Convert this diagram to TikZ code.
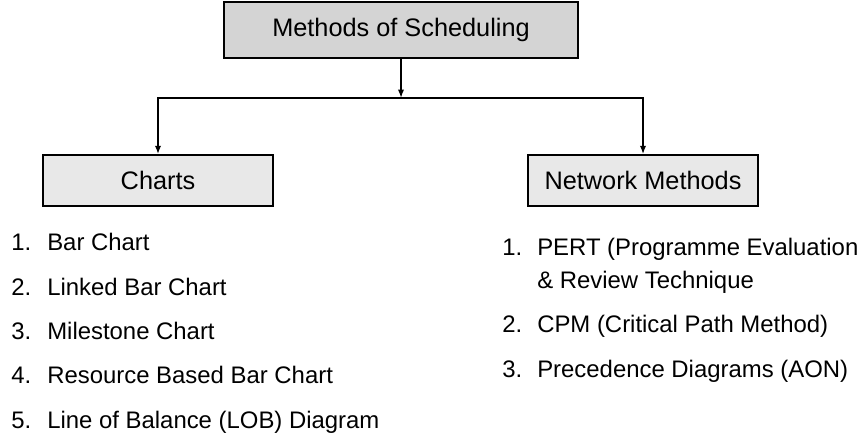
\documentclass[tikz,border=0pt]{standalone}
\usepackage{fontspec}
\setmainfont{Liberation Sans}
\usetikzlibrary{positioning, calc, arrows.meta}

\definecolor{headgray}{gray}{0.83}
\definecolor{boxgray}{gray}{0.91}

\begin{document}
\begin{tikzpicture}[x=0.025cm, y=-0.025cm,
    box/.style={draw, line width=1.1pt, inner sep=0pt, font=\fontsize{18}{22}\selectfont},
    conn/.style={line width=1.1pt, -{Latex[length=6pt, width=4.5pt]}},
    item/.style={anchor=base west, inner sep=0pt, font=\fontsize{17}{21}\selectfont}]

    % 枠
    \useasboundingbox (0,0) rectangle (859,434);

    % 箱の描画
    \node[box, fill=headgray, minimum width=8.85cm, minimum height=1.4cm] (methods) at (401,30) {Methods of Scheduling};
    \node[box, fill=boxgray, minimum width=5.75cm, minimum height=1.275cm] (charts) at (158,180.5) {Charts};
    \node[box, fill=boxgray, minimum width=5.75cm, minimum height=1.275cm] (network) at (643,180.5) {Network Methods};

    % 矢印
    \coordinate (split) at (401,98);
    \draw[conn] (methods.south) -- (split);
    \draw[conn] (split) -| (charts.north);
    \draw[conn] (split) -| (network.north);

    % 左のリスト
    \foreach \n/\t/\y in {1/Bar Chart/250, 2/Linked Bar Chart/295, 3/Milestone Chart/339,
                          4/Resource Based Bar Chart/383, 5/Line of Balance (LOB) Diagram/428} {
        \node[item] (cnum\n) at (11,\y) {\n.};
        \node[item] (citem\n) at (47,\y) {\t};
    }

    % 右のリスト
    \foreach \n/\t/\y in {1/PERT (Programme Evaluation/255, 2/CPM (Critical Path Method)/332,
                          3/Precedence Diagrams (AON)/377} {
        \node[item] (nnum\n) at (502,\y) {\n.};
        \node[item] (nitem\n) at (537,\y) {\t};
    }
    \node[item] (nitem1b) at (537,288) {\& Review Technique};

\end{tikzpicture}
\end{document}
